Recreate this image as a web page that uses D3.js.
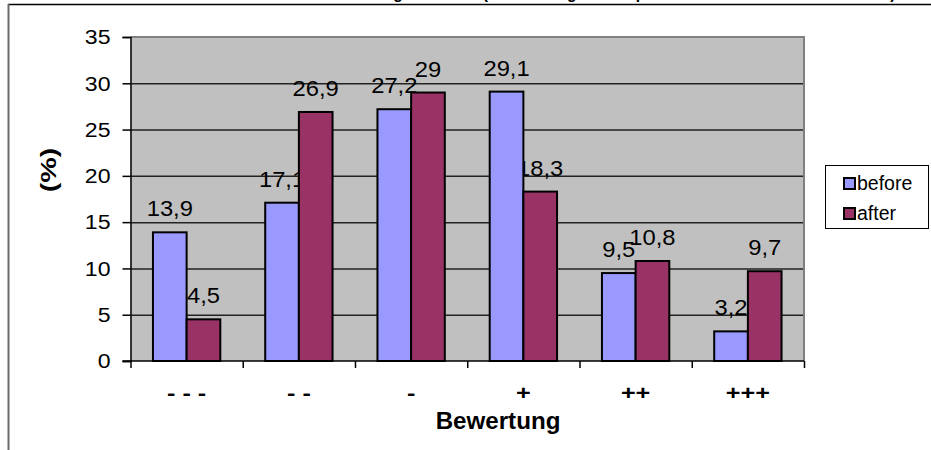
<!DOCTYPE html>
<html>
<head>
<meta charset="utf-8">
<script src="https://cdn.jsdelivr.net/npm/d3@7/dist/d3.min.js"></script>
<style>
  html, body { margin: 0; padding: 0; background: #fff; }
  svg { display: block; }
  text { font-family: "Liberation Sans", Arial, sans-serif; fill: #000; }
</style>
</head>
<body>
<svg id="chart" width="931" height="450"></svg>
<script>
// Rating categories and the two survey series (percent)
const categories = ["- - -", "- -", "-", "+", "++", "+++"];
const seriesNames = ["before", "after"];
const beforeValues = [13.9, 17.1, 27.2, 29.1, 9.5, 3.2];
const afterValues = [4.5, 26.9, 29, 18.3, 10.8, 9.7];
const yTickValues = [0, 5, 10, 15, 20, 25, 30, 35];
const seriesColors = ["#9999FF", "#993366"];
const chartTitle = "Bewertung der Lehre (Kursumfrage zum Sprachkurs vor und nach dem Kurs)";
const xAxisTitle = "Bewertung";
const yAxisTitle = "(%)";

const svg = d3.select("#chart");
const W = 931, H = 450;
const plot = { left: 130.5, right: 804, top: 37, bottom: 361 };

// German number format: decimal comma, trailing zero dropped
const de = d3.formatLocale({ decimal: ",", thousands: ".", grouping: [3], currency: ["", " €"] });
const fmt = de.format(".1~f");

const x0 = d3.scaleBand().domain(categories).range([plot.left, plot.right]).padding(0);
const x1 = d3.scaleBand().domain(seriesNames).range([0, x0.bandwidth()]).paddingInner(0).paddingOuter(0.667);
const y = d3.scaleLinear().domain([0, 35]).range([plot.bottom, plot.top]);
const color = d3.scaleOrdinal().domain(seriesNames).range(seriesColors);

const rows = categories.map((c, i) => ({
  category: c,
  values: [
    { series: "before", value: beforeValues[i] },
    { series: "after", value: afterValues[i] }
  ]
}));

// Outer chart frame
svg.append("rect").attr("width", W).attr("height", H).attr("fill", "#fff");

// Title: its baseline sits just above the top edge of the frame
svg.append("text")
  .attr("transform", "translate(895.5,-0.6) scale(0.92,1)")
  .attr("text-anchor", "end")
  .attr("font-size", 17).attr("font-weight", "bold")
  .text(chartTitle);

svg.append("line").attr("x1", 8).attr("x2", W).attr("y1", 4.5).attr("y2", 4.5)
  .attr("stroke", "#000").attr("stroke-width", 1.5);
svg.append("line").attr("x1", 8.5).attr("x2", 8.5).attr("y1", 4).attr("y2", H)
  .attr("stroke", "#6a6a6a").attr("stroke-width", 2);

// Plot background
svg.append("rect")
  .attr("x", plot.left).attr("y", plot.top)
  .attr("width", plot.right - plot.left).attr("height", plot.bottom - plot.top)
  .attr("fill", "#C0C0C0");

// Gridlines
svg.append("g")
  .attr("transform", `translate(${plot.left},0)`)
  .call(d3.axisLeft(y).tickValues(yTickValues.filter(v => v > 0 && v < 35))
    .tickSize(-(plot.right - plot.left)).tickFormat(""))
  .call(g => g.select(".domain").remove())
  .call(g => g.selectAll("line").attr("stroke", "#222").attr("stroke-width", 1.5));

// Plot area border (top and right)
svg.append("path")
  .attr("d", `M${plot.left},${plot.top}H${plot.right}V${plot.bottom}`)
  .attr("fill", "none").attr("stroke", "#808080").attr("stroke-width", 2);

const groups = svg.append("g").selectAll("g.cat")
  .data(rows).join("g").attr("class", "cat")
  .attr("transform", d => `translate(${x0(d.category)},0)`);

// Value labels (drawn under the bars)
groups.selectAll("text.val")
  .data(d => d.values).join("text").attr("class", "val")
  .attr("transform", d => `translate(${x1(d.series) + x1.bandwidth() / 2},${y(d.value) - 16}) scale(1.08,1)`)
  .attr("text-anchor", "middle")
  .attr("font-size", 22)
  .text(d => fmt(d.value));

// Bars
groups.selectAll("rect.bar")
  .data(d => d.values).join("rect").attr("class", "bar")
  .attr("x", d => x1(d.series))
  .attr("y", d => y(d.value))
  .attr("width", x1.bandwidth())
  .attr("height", d => y(0) - y(d.value))
  .attr("fill", d => color(d.series))
  .attr("stroke", "#000").attr("stroke-width", 2);

// Y axis
const yAxis = svg.append("g")
  .attr("transform", `translate(${plot.left},0)`)
  .call(d3.axisLeft(y).tickValues(yTickValues).tickSize(8).tickPadding(12).tickFormat(d3.format("d")));
yAxis.select(".domain").attr("stroke", "#000").attr("stroke-width", 1.5);
yAxis.selectAll(".tick line").attr("stroke", "#000").attr("stroke-width", 1.5);
yAxis.selectAll(".tick text")
  .attr("font-size", 21).attr("font-family", null).attr("fill", "#000")
  .attr("transform", "translate(-20,0) scale(1.1,1) translate(20,0)");

// X axis: line with tick marks at category boundaries
const xBound = d3.scaleLinear().domain([0, categories.length]).range([plot.left, plot.right]);
const xAxis = svg.append("g")
  .attr("transform", `translate(0,${plot.bottom})`)
  .call(d3.axisBottom(xBound).ticks(categories.length).tickSize(7).tickFormat("").tickSizeOuter(0));
xAxis.select(".domain").attr("stroke", "#000").attr("stroke-width", 1.5)
  .attr("d", `M${plot.left - 8},0H${plot.right}`);
xAxis.selectAll(".tick line").attr("stroke", "#000").attr("stroke-width", 1.5);

// Category labels
const xLabels = svg.append("g")
  .attr("transform", `translate(0,${plot.bottom})`)
  .call(d3.axisBottom(x0).tickSize(0).tickPadding(24));
xLabels.select(".domain").remove();
xLabels.selectAll(".tick text")
  .attr("font-size", 21).attr("font-weight", "bold").attr("font-family", null).attr("fill", "#000")
  .attr("transform", "scale(1.2,1)")
  .attr("x", 0);
// keep the widened labels centred on their tick
xLabels.selectAll(".tick").each(function () {
  const t = d3.select(this);
  const tr = t.attr("transform");
  const cx = +tr.match(/translate\(([^,]+),/)[1];
  t.attr("transform", `translate(${cx},0)`);
});

// Axis titles
svg.append("text")
  .attr("transform", "translate(498,429) scale(1.05,1)")
  .attr("text-anchor", "middle")
  .attr("font-size", 23).attr("font-weight", "bold")
  .text(xAxisTitle);

svg.append("text")
  .attr("transform", "translate(56,170) rotate(-90) scale(1.3,1)")
  .attr("text-anchor", "middle")
  .attr("font-size", 22).attr("font-weight", "bold")
  .text(yAxisTitle);

// Legend
const legend = svg.append("g");
legend.append("rect")
  .attr("x", 825.5).attr("y", 165.5).attr("width", 103).attr("height", 63)
  .attr("fill", "#fff").attr("stroke", "#000").attr("stroke-width", 1);
const legendItems = legend.selectAll("g.item")
  .data(seriesNames).join("g").attr("class", "item")
  .attr("transform", (d, i) => `translate(844,${178 + i * 30})`);
legendItems.append("rect")
  .attr("width", 11).attr("height", 11)
  .attr("fill", d => color(d)).attr("stroke", "#000").attr("stroke-width", 2);
legendItems.append("text")
  .attr("x", 13).attr("y", 11.5)
  .attr("font-size", 19.5)
  .text(d => d);
</script>
</body>
</html>
